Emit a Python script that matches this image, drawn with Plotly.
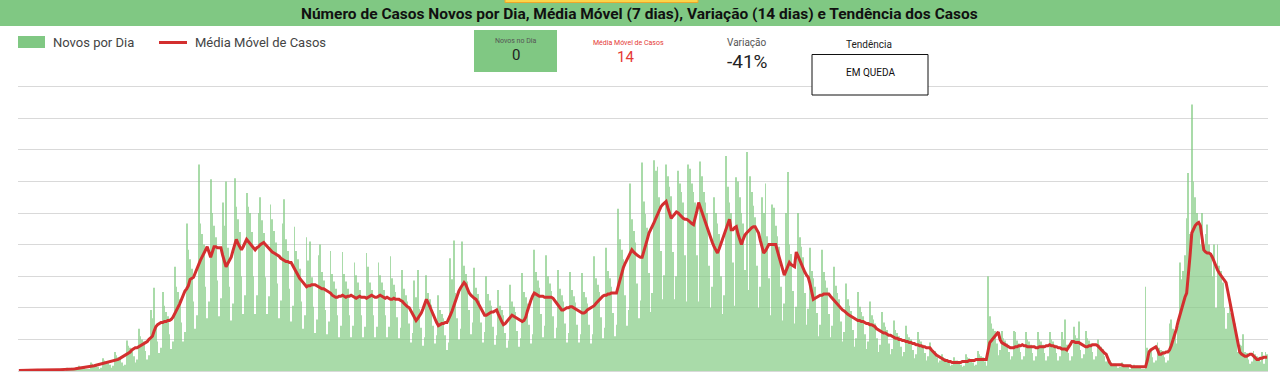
import plotly.graph_objects as go

# ---------------- data ----------------
title_text = "Número de Casos Novos por Dia, Média Móvel (7 dias), Variação (14 dias) e Tendência dos Casos"
legend_bar = "Novos por Dia"
legend_line = "Média Móvel de Casos"
card_novos_label = "Novos no Dia"
card_novos_value = "0"
card_media_label = "Média Móvel de Casos"
card_media_value = "14"
card_var_label = "Variação"
card_var_value = "-41%"
card_tend_label = "Tendência"
card_tend_value = "EM QUEDA"

# daily new cases (one row = one week)
novos_por_dia = [
    0, 1, 0, 1, 0, 1, 0,
    1, 0, 1, 2, 1, 0, 1,
    0, 1, 2, 1, 2, 1, 0,
    1, 1, 2, 2, 1, 1, 0,
    3, 2, 2, 3, 1, 1, 1,
    5, 4, 4, 3, 2, 1, 2,
    8, 7, 6, 6, 4, 2, 3,
    12, 10, 9, 8, 6, 3, 5,
    18, 15, 13, 12, 8, 5, 6,
    29, 24, 22, 20, 14, 8, 11,
    40, 33, 30, 28, 19, 11, 15,
    58, 50, 79, 42, 28, 17, 22,
    75, 62, 56, 52, 35, 21, 28,
    99, 80, 75, 68, 46, 28, 37,
    140, 115, 106, 97, 66, 40, 53,
    196, 140, 130, 120, 80, 50, 66,
    182, 150, 138, 127, 86, 52, 69,
    160, 138, 180, 117, 80, 48, 64,
    183, 156, 144, 132, 90, 54, 72,
    169, 156, 150, 132, 90, 54, 72,
    150, 165, 143, 131, 89, 54, 71,
    158, 144, 133, 122, 83, 50, 67,
    140, 163, 125, 114, 78, 47, 62,
    137, 114, 106, 97, 66, 40, 53,
    127, 105, 123, 89, 61, 36, 49,
    110, 120, 94, 86, 58, 35, 47,
    114, 92, 85, 78, 53, 32, 43,
    113, 92, 85, 78, 53, 32, 43,
    103, 91, 84, 77, 53, 32, 42,
    112, 99, 84, 77, 53, 32, 42,
    103, 91, 84, 77, 53, 32, 42,
    109, 88, 82, 75, 51, 31, 41,
    96, 78, 72, 66, 45, 27, 36,
    86, 70, 96, 59, 41, 24, 32,
    91, 74, 68, 63, 43, 26, 34,
    72, 58, 54, 50, 34, 20, 27,
    107, 87, 124, 74, 50, 30, 40,
    123, 100, 92, 85, 58, 35, 46,
    98, 79, 73, 67, 46, 27, 37,
    90, 73, 67, 62, 42, 25, 34,
    77, 62, 58, 53, 36, 22, 29,
    82, 66, 61, 56, 38, 23, 31,
    93, 75, 70, 64, 44, 26, 35,
    115, 94, 86, 79, 54, 32, 43,
    110, 90, 83, 76, 52, 31, 41,
    96, 78, 72, 66, 45, 27, 36,
    94, 77, 71, 65, 44, 27, 35,
    93, 75, 70, 64, 44, 26, 35,
    109, 88, 82, 75, 51, 31, 41,
    117, 95, 88, 80, 55, 33, 44,
    154, 125, 115, 106, 72, 43, 58,
    178, 144, 133, 122, 83, 50, 67,
    198, 161, 149, 136, 93, 56, 74,
    200, 190, 194, 165, 114, 68, 91,
    196, 185, 175, 166, 113, 68, 90,
    190, 178, 170, 160, 110, 66, 196,
    192, 178, 170, 160, 110, 66, 199,
    185, 170, 160, 150, 100, 60, 80,
    165, 150, 140, 130, 90, 54, 72,
    204, 175, 160, 150, 103, 62, 184,
    180, 165, 150, 140, 96, 208, 77,
    185, 170, 157, 146, 100, 60, 80,
    165, 150, 178, 128, 88, 53, 158,
    155, 138, 128, 118, 80, 48, 64,
    150, 189, 120, 111, 76, 45, 61,
    150, 127, 118, 108, 74, 44, 59,
    117, 95, 88, 80, 55, 33, 44,
    115, 94, 86, 79, 54, 32, 43,
    99, 81, 74, 68, 47, 28, 37,
    83, 68, 62, 57, 39, 23, 31,
    75, 61, 56, 52, 35, 21, 28,
    66, 53, 49, 45, 31, 18, 25,
    56, 46, 42, 39, 26, 16, 21,
    48, 39, 36, 33, 23, 14, 18,
    43, 35, 32, 30, 20, 12, 16,
    37, 30, 28, 25, 17, 10, 14,
    27, 22, 20, 19, 13, 8, 10,
    16, 13, 12, 11, 8, 5, 6,
    13, 10, 10, 9, 6, 4, 5,
    16, 13, 12, 11, 8, 5, 6,
    19, 16, 14, 13, 9, 5, 90,
    52, 45, 40, 38, 26, 15, 20,
    38, 31, 29, 26, 18, 11, 14,
    38, 37, 29, 26, 18, 11, 14,
    37, 30, 28, 25, 17, 10, 14,
    37, 30, 28, 25, 17, 10, 14,
    37, 30, 28, 25, 17, 10, 14,
    37, 30, 49, 25, 17, 10, 14,
    42, 34, 31, 47, 20, 12, 16,
    38, 31, 29, 26, 18, 11, 14,
    30, 25, 23, 21, 14, 9, 11,
    10, 8, 7, 7, 5, 3, 4,
    8, 7, 6, 6, 4, 2, 3,
    6, 5, 5, 4, 3, 2, 2,
    80, 22, 20, 19, 13, 8, 10,
    27, 22, 20, 19, 13, 8, 10,
    45, 49, 40, 36, 26, 43, 103,
    87, 95, 110, 145, 188, 130, 253,
    180, 165, 150, 140, 120, 150, 120,
    130, 139, 120, 110, 90, 120, 60,
    120, 100, 95, 84, 60, 40, 55,
    65, 55, 50, 45, 30, 18, 25,
    24, 35, 18, 17, 11, 7, 9,
    19, 16, 14, 13, 9, 18, 7,
    18, 16,
]

# 7-day moving average (one row = ten days)
media_movel = [
    0.4, 0.5, 0.5, 0.6, 0.6, 0.7, 0.7, 0.8, 0.8, 0.8,
    0.9, 0.9, 0.9, 1.0, 1.0, 1.0, 1.1, 1.1, 1.1, 1.1,
    1.2, 1.2, 1.2, 1.3, 1.3, 1.3, 1.4, 1.4, 1.5, 1.6,
    1.7, 1.9, 2.0, 2.2, 2.4, 2.6, 2.8, 3.0, 3.1, 3.3,
    3.6, 3.9, 4.3, 4.7, 5.0, 5.4, 5.8, 6.1, 6.6, 7.0,
    7.4, 7.8, 8.1, 8.4, 8.9, 9.3, 9.6, 10, 11, 12,
    13, 14, 15, 16, 17, 18, 20, 21, 22, 22,
    23, 24, 25, 26, 27, 28, 30, 32, 33, 38,
    42, 44, 45, 46, 46, 47, 47, 48, 48, 49,
    51, 54, 57, 60, 64, 68, 72, 76, 78, 81,
    87, 88, 89, 93, 98, 101, 105, 108, 112, 115,
    118, 113, 108, 113, 118, 118, 117, 117, 117, 110,
    104, 99, 102, 105, 108, 114, 119, 125, 121, 118,
    115, 118, 122, 125, 123, 121, 119, 117, 115, 117,
    118, 120, 121, 122, 120, 118, 117, 115, 113, 112,
    111, 110, 109, 107, 106, 105, 104, 104, 103, 103,
    100, 96, 93, 90, 88, 86, 84, 82, 80, 81,
    81, 82, 82, 82, 81, 80, 79, 78, 78, 77,
    76, 75, 74, 72, 71, 70, 70, 71, 71, 72,
    71, 70, 71, 71, 72, 71, 70, 69, 70, 71,
    70, 70, 70, 69, 70, 71, 72, 71, 70, 70,
    71, 72, 71, 70, 69, 70, 69, 68, 68, 69,
    68, 68, 68, 67, 66, 64, 62, 61, 60, 57,
    53, 50, 48, 50, 52, 55, 59, 63, 68, 65,
    61, 58, 53, 49, 46, 43, 44, 45, 45, 46,
    46, 49, 53, 57, 62, 68, 72, 76, 79, 82,
    84, 82, 78, 74, 72, 70, 69, 68, 65, 61,
    58, 55, 53, 53, 54, 55, 56, 56, 57, 58,
    54, 50, 47, 44, 45, 47, 49, 51, 53, 52,
    51, 50, 49, 48, 47, 48, 51, 57, 63, 67,
    71, 74, 73, 72, 71, 71, 71, 70, 70, 70,
    70, 70, 69, 67, 65, 62, 60, 58, 58, 59,
    60, 60, 61, 61, 60, 59, 58, 57, 56, 55,
    55, 56, 58, 59, 60, 61, 62, 64, 66, 68,
    70, 71, 72, 72, 73, 73, 74, 74, 74, 74,
    80, 87, 94, 98, 102, 105, 108, 112, 115, 113,
    111, 110, 109, 108, 108, 113, 119, 125, 131, 134,
    137, 141, 145, 149, 153, 156, 158, 160, 161, 155,
    150, 145, 147, 149, 151, 150, 148, 147, 145, 144,
    144, 143, 141, 140, 139, 145, 152, 160, 155, 150,
    145, 141, 136, 131, 126, 122, 118, 115, 112, 116,
    121, 126, 131, 136, 141, 144, 134, 134, 136, 137,
    130, 125, 120, 125, 129, 131, 133, 134, 136, 137,
    137, 134, 131, 124, 118, 112, 114, 117, 120, 120,
    120, 120, 120, 114, 108, 102, 96, 91, 95, 99,
    103, 101, 100, 99, 113, 109, 106, 102, 98, 94,
    91, 89, 83, 76, 68, 69, 70, 71, 72, 72,
    73, 73, 73, 73, 71, 69, 67, 65, 63, 61,
    60, 58, 57, 55, 54, 53, 52, 51, 50, 49,
    48, 48, 47, 47, 46, 45, 45, 44, 44, 43,
    42, 40, 39, 38, 37, 36, 36, 35, 34, 34,
    33, 32, 31, 31, 30, 30, 29, 29, 28, 28,
    27, 27, 26, 26, 25, 25, 24, 24, 23, 23,
    22, 22, 22, 20, 18, 17, 15, 14, 13, 12,
    11, 10, 10, 9, 9, 8, 8, 8, 8, 8,
    8, 9, 9, 9, 9, 10, 10, 10, 10, 11,
    11, 11, 11, 11, 11, 11, 19, 27, 29, 31,
    33, 35, 37, 30, 27, 26, 25, 24, 23, 22,
    22, 22, 23, 23, 24, 24, 25, 24, 24, 23,
    23, 23, 23, 23, 22, 22, 23, 23, 23, 23,
    24, 24, 25, 24, 24, 23, 23, 22, 22, 21,
    21, 21, 20, 22, 25, 28, 28, 27, 27, 27,
    26, 25, 24, 23, 23, 24, 24, 25, 25, 25,
    24, 22, 21, 19, 17, 16, 12, 8, 6, 6,
    6, 6, 6, 6, 6, 5, 5, 5, 5, 5,
    4, 4, 4, 4, 4, 4, 4, 4, 4, 10,
    18, 20, 21, 22, 23, 20, 16, 16, 17, 17,
    18, 18, 20, 24, 29, 33, 40, 47, 53, 60,
    66, 70, 74, 90, 110, 131, 135, 138, 140, 141,
    138, 126, 115, 113, 112, 112, 111, 108, 104, 99,
    96, 93, 91, 89, 86, 84, 76, 68, 60, 52,
    44, 35, 26, 18, 16, 15, 14, 14, 15, 16,
    16, 14, 12, 11, 11, 12, 12, 13, 13, 13,
]

dias_barras = list(range(len(novos_por_dia)))
dias_media = list(range(len(media_movel)))

# ---------------- layout helpers (pixel -> paper) ----------------
W, H = 1280, 383
L, R, T, B = 18, 1268, 55, 371

def px(x):
    return (x - L) / (R - L)

def py(y):
    return (B - y) / (B - T)

GREEN = "#80c883"
BAR_GREEN = "#86cc86"
RED = "#d32f2f"
FONT = "Roboto"

fig = go.Figure()
fig.add_trace(go.Bar(
    x=dias_barras, y=novos_por_dia, name=legend_bar,
    marker=dict(color=BAR_GREEN, line=dict(width=0)), opacity=0.7,
    hoverinfo="skip",
))
fig.add_trace(go.Scatter(
    x=dias_media, y=media_movel, name=legend_line, mode="lines",
    line=dict(color=RED, width=3), hoverinfo="skip",
))

shapes = []
annotations = []

# header
shapes.append(dict(type="rect", xref="paper", yref="paper", x0=px(0), x1=px(W), y0=py(26), y1=py(0),
                   fillcolor=GREEN, line=dict(width=0), layer="above"))
shapes.append(dict(type="rect", xref="paper", yref="paper", x0=px(505), x1=px(698), y0=py(2.5), y1=py(-2),
                   fillcolor="#fbd54a", line=dict(color="#eea62a", width=1), layer="above"))
annotations.append(dict(xref="paper", yref="paper", x=px(639), y=py(14.5), xanchor="center", yanchor="middle",
                        text="<b>" + title_text + "</b>", showarrow=False,
                        font=dict(family=FONT, size=15.5, color="#111111")))

# legend (drawn manually)
shapes.append(dict(type="rect", xref="paper", yref="paper", x0=px(18), x1=px(45), y0=py(48), y1=py(36),
                   fillcolor=GREEN, line=dict(width=0), layer="above"))
annotations.append(dict(xref="paper", yref="paper", x=px(51), y=py(42.5), xanchor="left", yanchor="middle",
                        text=legend_bar, showarrow=False, font=dict(family=FONT, size=13, color="#444444")))
shapes.append(dict(type="line", xref="paper", yref="paper", x0=px(159), x1=px(187), y0=py(42.5), y1=py(42.5),
                   line=dict(color=RED, width=3), layer="above"))
annotations.append(dict(xref="paper", yref="paper", x=px(193), y=py(42.5), xanchor="left", yanchor="middle",
                        text=legend_line, showarrow=False, font=dict(family=FONT, size=13, color="#444444")))

# white backgrounds of scorecards (hide top gridline there)
for x0, x1 in [(392, 474), (570, 680), (693, 780)]:
    shapes.append(dict(type="rect", xref="paper", yref="paper", x0=px(x0), x1=px(x1), y0=py(70), y1=py(30),
                       fillcolor="white", line=dict(width=0), layer="above"))

# card 1: Novos no Dia
shapes.append(dict(type="rect", xref="paper", yref="paper", x0=px(474), x1=px(557), y0=py(72), y1=py(30),
                   fillcolor=GREEN, line=dict(width=0), layer="above"))
annotations.append(dict(xref="paper", yref="paper", x=px(515.5), y=py(41), xanchor="center", yanchor="middle",
                        text=card_novos_label, showarrow=False, font=dict(family=FONT, size=7, color="#555555")))
annotations.append(dict(xref="paper", yref="paper", x=px(515.5), y=py(55), xanchor="center", yanchor="middle",
                        text=card_novos_value, showarrow=False, font=dict(family=FONT, size=15, color="#222222")))

# card 2: Média Móvel
annotations.append(dict(xref="paper", yref="paper", x=px(628), y=py(42.5), xanchor="center", yanchor="middle",
                        text=card_media_label, showarrow=False, font=dict(family=FONT, size=7, color="#e53935")))
annotations.append(dict(xref="paper", yref="paper", x=px(625), y=py(56.5), xanchor="center", yanchor="middle",
                        text=card_media_value, showarrow=False, font=dict(family=FONT, size=15, color="#e53935")))

# card 3: Variação
annotations.append(dict(xref="paper", yref="paper", x=px(747), y=py(42.5), xanchor="center", yanchor="middle",
                        text=card_var_label, showarrow=False, font=dict(family=FONT, size=10, color="#555555")))
annotations.append(dict(xref="paper", yref="paper", x=px(747), y=py(61.5), xanchor="center", yanchor="middle",
                        text=card_var_value, showarrow=False, font=dict(family=FONT, size=19, color="#222222")))

# card 4: Tendência
annotations.append(dict(xref="paper", yref="paper", x=px(869), y=py(44), xanchor="center", yanchor="middle",
                        text=card_tend_label, showarrow=False, font=dict(family=FONT, size=10, color="#222222")))
shapes.append(dict(type="rect", xref="paper", yref="paper", x0=px(812), x1=px(928), y0=py(95), y1=py(54.5),
                   fillcolor="white", line=dict(color="#111111", width=1), layer="above"))
annotations.append(dict(xref="paper", yref="paper", x=px(870), y=py(73), xanchor="center", yanchor="middle",
                        text=card_tend_value, showarrow=False, font=dict(family=FONT, size=10, color="#111111")))

fig.update_layout(
    width=W, height=H,
    margin=dict(l=L, r=W - R, t=T, b=H - B, pad=0),
    paper_bgcolor="white", plot_bgcolor="white",
    showlegend=False,
    bargap=0.5,
    font=dict(family=FONT),
    shapes=shapes, annotations=annotations,
    xaxis=dict(range=[-0.5, len(novos_por_dia) - 0.5], showticklabels=False, showgrid=False,
               zeroline=False, ticks="", showline=False, fixedrange=True),
    yaxis=dict(range=[0, 300], dtick=30, showticklabels=False, showgrid=True, gridcolor="#d9d9d9",
               gridwidth=1, zeroline=True, zerolinecolor="#d9d9d9", zerolinewidth=1,
               ticks="", showline=False, fixedrange=True),
)

fig.write_html(
    "out.html",
    config={"displayModeBar": False},
    post_script="document.body.style.margin='0';document.body.style.padding='0';",
)
